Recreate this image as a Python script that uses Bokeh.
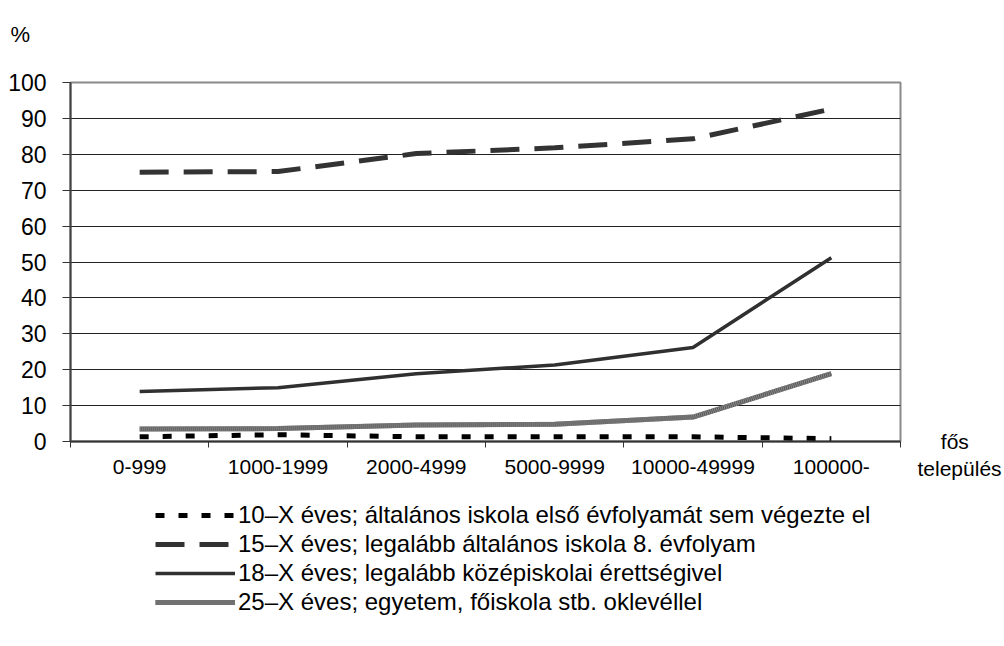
from bokeh.plotting import figure
from bokeh.layouts import column
from bokeh.models import (FixedTicker, Legend, LegendItem, Range1d, LinearAxis, Title)
from bokeh.embed import file_html
from bokeh.resources import INLINE

categories = ["0-999", "1000-1999", "2000-4999", "5000-9999", "10000-49999", "100000-"]
s10 = [1.3, 1.9, 1.3, 1.3, 1.3, 0.8]
s15 = [75.0, 75.2, 80.2, 81.8, 84.3, 92.6]
s18 = [13.9, 15.0, 18.9, 21.3, 26.2, 51.2]
s25 = [3.5, 3.6, 4.6, 4.8, 6.8, 18.9]
y_ticks = [0, 10, 20, 30, 40, 50, 60, 70, 80, 90, 100]
legend_labels = [
    "10\u2013X éves; általános iskola első évfolyamát sem végezte el",
    "15\u2013X éves; legalább általános iskola 8. évfolyam",
    "18\u2013X éves; legalább középiskolai érettségivel",
    "25\u2013X éves; egyetem, főiskola stb. oklevéllel",
]
unit_label = "%\n\u00a0"
axis_note = "\u00a0\n\u00a0\u00a0\u00a0\u00a0fős\ntelepülés"

FONT = "Liberation Sans"
n = len(categories)
xs = [i + 0.5 for i in range(n)]

st10 = dict(line_color="black", line_width=5, line_dash="9 14", line_cap="butt")
st15 = dict(line_color="#333333", line_width=5, line_dash="29 15", line_cap="butt")
st18 = dict(line_color="#303030", line_width=3.5)
st25a = dict(line_color="#575757", line_width=5)
st25b = dict(line_color="#8c8c8c", line_width=5, line_dash="1 1")

p = figure(width=1004, height=495, output_backend="svg", toolbar_location=None,
           x_range=Range1d(0, n), y_range=Range1d(0, 100),
           min_border_left=70, min_border_right=104, min_border_top=82, min_border_bottom=54)
p.background_fill_color = "white"
p.border_fill_color = "white"
p.outline_line_color = "#8a8a8a"
p.outline_line_width = 2

p.title = Title(text=unit_label, align="left", offset=-60, standoff=22,
                text_font=FONT, text_font_size="22px", text_font_style="normal",
                text_color="black")

# x axis
p.xaxis.ticker = FixedTicker(ticks=xs, minor_ticks=list(range(n + 1)))
p.xaxis.major_label_overrides = {x: c for x, c in zip(xs, categories)}
p.xaxis.major_tick_out = 0
p.xaxis.major_tick_in = 0
p.xaxis.minor_tick_out = 6
p.xaxis.minor_tick_in = 0
p.xaxis.minor_tick_line_color = "#333333"
p.xaxis.axis_line_color = "#333333"
p.xaxis.axis_line_width = 2
p.xaxis.major_label_text_font = FONT
p.xaxis.major_label_text_font_size = "21px"
p.xaxis.major_label_text_color = "black"
p.xaxis.major_label_standoff = 12

# y axis
p.yaxis.ticker = FixedTicker(ticks=y_ticks)
p.yaxis.minor_tick_line_color = None
p.yaxis.major_tick_out = 8
p.yaxis.major_tick_in = 0
p.yaxis.major_tick_line_color = "#333333"
p.yaxis.axis_line_color = "#444444"
p.yaxis.axis_line_width = 2
p.yaxis.major_label_text_font = FONT
p.yaxis.major_label_text_font_size = "23px"
p.yaxis.major_label_text_color = "black"
p.yaxis.major_label_standoff = 16

# right axis carrying the "fős település" note
raxis = LinearAxis(ticker=FixedTicker(ticks=[0.05]), major_label_overrides={0.05: axis_note})
raxis.axis_line_color = None
raxis.major_tick_line_color = None
raxis.minor_tick_line_color = None
raxis.major_label_text_font = FONT
raxis.major_label_text_font_size = "21px"
raxis.major_label_text_color = "black"
raxis.major_label_standoff = 11
p.add_layout(raxis, "right")

p.xgrid.grid_line_color = None
p.ygrid.ticker = FixedTicker(ticks=y_ticks[1:-1])
p.ygrid.grid_line_color = "#222222"
p.ygrid.grid_line_width = 1

# series
p.line(xs, s10, **st10)
p.line(xs, s15, **st15)
p.line(xs, s18, **st18)
p.line(xs, s25, **st25a)
p.line(xs, s25, **st25b)

# legend panel below (its own renderers sit outside its visible range)
q = figure(width=1004, height=151, output_backend="svg", toolbar_location=None,
           x_range=Range1d(100, 101), y_range=Range1d(0, 1),
           min_border_left=0, min_border_right=0, min_border_top=0, min_border_bottom=0)
q.axis.visible = False
q.grid.visible = False
q.outline_line_color = None
q.background_fill_color = "white"
q.border_fill_color = "white"
l10 = q.line(xs, s10, **st10)
l15 = q.line(xs, s15, **st15)
l18 = q.line(xs, s18, **st18)
l25a = q.line(xs, s25, **st25a)
l25b = q.line(xs, s25, **st25b)

legend = Legend(items=[
    LegendItem(label=legend_labels[0], renderers=[l10]),
    LegendItem(label=legend_labels[1], renderers=[l15]),
    LegendItem(label=legend_labels[2], renderers=[l18]),
    LegendItem(label=legend_labels[3], renderers=[l25a, l25b]),
], location=(85, 30))
legend.glyph_width = 80
legend.glyph_height = 20
legend.label_height = 20
legend.label_standoff = 3
legend.spacing = 1
legend.padding = 0
legend.margin = 0
legend.border_line_color = None
legend.background_fill_alpha = 0
legend.label_text_font = FONT
legend.label_text_font_size = "24px"
legend.label_text_color = "black"
q.add_layout(legend, "center")

layout = column(p, q, spacing=0)
open("out.html", "w").write(file_html(layout, INLINE))
